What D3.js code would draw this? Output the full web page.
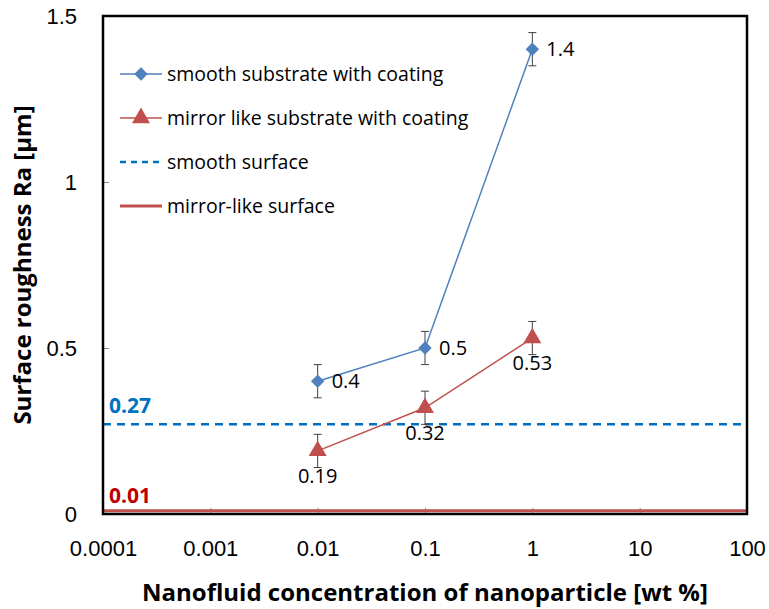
<!DOCTYPE html>
<html lang="en">
<head>
  <meta charset="UTF-8">
  <title>Surface roughness vs nanofluid concentration</title>
  <script src="https://d3js.org/d3.v7.min.js"></script>
  <style>
    body { margin: 0; background: #fff; font-family: "Open Sans", "Noto Sans", sans-serif; }
    .tick text { font-size: 22px; fill: #000; }
    .axis-title { font-size: 24px; font-weight: bold; fill: #000; }
    .legend text { font-size: 19.5px; fill: #000; }
    .dlabel { font-size: 20px; fill: #000; }
  </style>
</head>
<body>
  <div id="chart"></div>
  <script>
    // data
    const concentrations = [0.01, 0.1, 1];
    const smoothCoated = [0.4, 0.5, 1.4];
    const mirrorCoated = [0.19, 0.32, 0.53];
    const errSmooth = [0.05, 0.05, 0.05];
    const errMirror = [0.05, 0.05, 0.05];
    const smoothSurface = 0.27;
    const mirrorSurface = 0.01;
    const xTicks = [0.0001, 0.001, 0.01, 0.1, 1, 10, 100];
    const xTickLabels = ["0.0001", "0.001", "0.01", "0.1", "1", "10", "100"];
    const yTicks = [0, 0.5, 1, 1.5];
    const yTickLabels = ["0", "0.5", "1", "1.5"];
    const seriesNames = ["smooth substrate with coating", "mirror like substrate with coating", "smooth surface", "mirror-like surface"];

    const blue = "#4F81BD", red = "#C0504D", dashBlue = "#0070C0";

    const W = 769, H = 609;
    const margin = { top: 16, right: 22, bottom: 95, left: 103 };
    const width = W - margin.left - margin.right;
    const height = H - margin.top - margin.bottom;

    const svg = d3.select("#chart").append("svg")
      .attr("width", W).attr("height", H);
    const g = svg.append("g").attr("transform", `translate(${margin.left},${margin.top})`);

    const x = d3.scaleLog().domain([0.0001, 100]).range([0, width]);
    const y = d3.scaleLinear().domain([0, 1.5]).range([height, 0]);

    // axes with inner ticks
    const xAxis = g.append("g")
      .attr("transform", `translate(0,${height})`)
      .call(d3.axisBottom(x).tickValues(xTicks).tickSizeInner(-6).tickSizeOuter(0)
        .tickPadding(26).tickFormat((d, i) => xTickLabels[i]));
    xAxis.select(".domain").remove();
    xAxis.selectAll("line").attr("stroke", "#888");

    const yAxis = g.append("g")
      .call(d3.axisLeft(y).tickValues(yTicks).tickSizeInner(-6).tickSizeOuter(0)
        .tickPadding(26).tickFormat((d, i) => yTickLabels[i]));
    yAxis.select(".domain").remove();
    yAxis.selectAll("line").attr("stroke", "#888");

    // reference lines
    g.append("line")
      .attr("x1", 0).attr("x2", width)
      .attr("y1", y(smoothSurface)).attr("y2", y(smoothSurface))
      .attr("stroke", dashBlue).attr("stroke-width", 2.5).attr("stroke-dasharray", "8,6");
    g.append("line")
      .attr("x1", 0).attr("x2", width)
      .attr("y1", y(mirrorSurface)).attr("y2", y(mirrorSurface))
      .attr("stroke", red).attr("stroke-width", 3);

    g.append("text").attr("x", 6).attr("y", y(smoothSurface) - 11)
      .attr("fill", dashBlue).attr("font-weight", "bold").attr("font-size", 21)
      .text(smoothSurface.toFixed(2));
    g.append("text").attr("x", 6).attr("y", y(mirrorSurface) - 8)
      .attr("fill", "#C00000").attr("font-weight", "bold").attr("font-size", 21)
      .text(mirrorSurface.toFixed(2));

    // frame
    g.append("rect").attr("width", width).attr("height", height)
      .attr("fill", "none").attr("stroke", "#000").attr("stroke-width", 2.5);

    const line = d3.line().x(d => x(d[0])).y(d => y(d[1]));

    // diamond = square turned 45 degrees, triangle as is
    const markerRot = sym => (sym === d3.symbolSquare ? " rotate(45)" : "");

    function drawSeries(vals, errs, color, symbol, size, labelPos) {
      const pts = concentrations.map((c, i) => [c, vals[i], errs[i]]);
      // error bars
      const eb = g.append("g").attr("stroke", "#404040").attr("stroke-width", 1);
      pts.forEach(p => {
        const cx = x(p[0]);
        eb.append("line").attr("x1", cx).attr("x2", cx).attr("y1", y(p[1] - p[2])).attr("y2", y(p[1] + p[2]));
        eb.append("line").attr("x1", cx - 4).attr("x2", cx + 4).attr("y1", y(p[1] - p[2])).attr("y2", y(p[1] - p[2]));
        eb.append("line").attr("x1", cx - 4).attr("x2", cx + 4).attr("y1", y(p[1] + p[2])).attr("y2", y(p[1] + p[2]));
      });
      g.append("path").datum(pts).attr("d", line)
        .attr("fill", "none").attr("stroke", color).attr("stroke-width", 1.5);
      g.selectAll(null).data(pts).enter().append("path")
        .attr("d", d3.symbol().type(symbol).size(size))
        .attr("transform", d => `translate(${x(d[0])},${y(d[1])})${markerRot(symbol)}`)
        .attr("fill", color);
      g.selectAll(null).data(pts).enter().append("text")
        .attr("class", "dlabel")
        .attr("x", d => labelPos === "right" ? x(d[0]) + 14 : x(d[0]))
        .attr("y", d => labelPos === "right" ? y(d[1]) + 7 : y(d[1]) + 32)
        .attr("text-anchor", labelPos === "right" ? "start" : "middle")
        .text(d => d[1]);
    }

    drawSeries(smoothCoated, errSmooth, blue, d3.symbolSquare, 90, "right");
    drawSeries(mirrorCoated, errMirror, red, d3.symbolTriangle, 140, "below");

    // legend
    const legend = g.append("g").attr("class", "legend").attr("transform", "translate(17,58)");
    const legendRows = [
      { name: seriesNames[0], color: blue, sym: d3.symbolSquare, size: 90, w: 1.5 },
      { name: seriesNames[1], color: red, sym: d3.symbolTriangle, size: 140, w: 1.5 },
      { name: seriesNames[2], color: dashBlue, dash: "6,5", w: 2.5 },
      { name: seriesNames[3], color: red, w: 3 }
    ];
    legendRows.forEach((r, i) => {
      const row = legend.append("g").attr("transform", `translate(0,${i * 44})`);
      row.append("line").attr("x1", 0).attr("x2", 42).attr("y1", 0).attr("y2", 0)
        .attr("stroke", r.color).attr("stroke-width", r.w)
        .attr("stroke-dasharray", r.dash || null);
      if (r.sym) row.append("path").attr("d", d3.symbol().type(r.sym).size(r.size))
        .attr("transform", "translate(21,0)" + markerRot(r.sym)).attr("fill", r.color);
      row.append("text").attr("x", 47).attr("y", 7).text(r.name);
    });

    // axis titles
    svg.append("text").attr("class", "axis-title")
      .attr("x", margin.left + width / 2).attr("y", 601)
      .attr("text-anchor", "middle")
      .text("Nanofluid concentration of nanoparticle [wt %]");
    svg.append("text").attr("class", "axis-title")
      .attr("transform", `translate(31,${margin.top + height / 2}) rotate(-90)`)
      .attr("text-anchor", "middle")
      .text("Surface roughness Ra [µm]");
  </script>
</body>
</html>
